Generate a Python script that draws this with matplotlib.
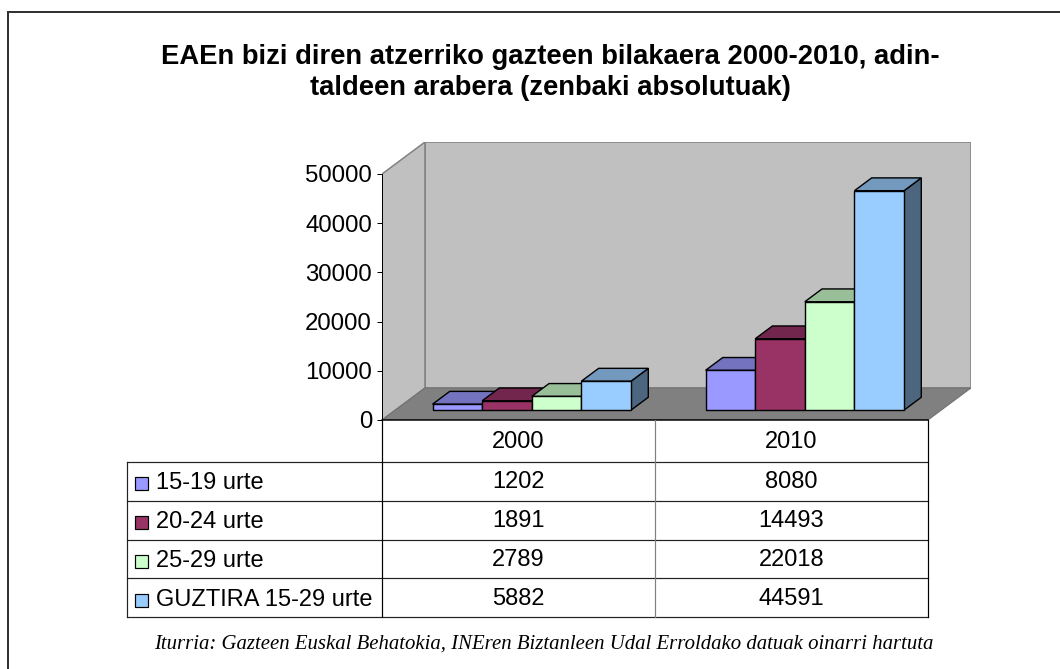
import matplotlib
matplotlib.use("Agg")
import matplotlib.pyplot as plt
from matplotlib.patches import Polygon
from matplotlib.lines import Line2D

# ---------------- data ----------------
years = ["2000", "2010"]
series_labels = ["15-19 urte", "20-24 urte", "25-29 urte", "GUZTIRA 15-29 urte"]
v_15_19 = [1202, 8080]
v_20_24 = [1891, 14493]
v_25_29 = [2789, 22018]
v_total = [5882, 44591]
yticks = [0, 10000, 20000, 30000, 40000, 50000]
title_lines = ["EAEn bizi diren atzerriko gazteen bilakaera 2000-2010, adin-",
               "taldeen arabera (zenbaki absolutuak)"]
source = "Iturria: Gazteen Euskal Behatokia, INEren Biztanleen Udal Erroldako datuak oinarri hartuta"

front_colors = ["#9999FF", "#993366", "#CCFFCC", "#99CCFF"]
top_colors = ["#7373BF", "#73264D", "#99BF99", "#7399BF"]
side_colors = ["#4D4D80", "#4D1A33", "#668066", "#4D6680"]

plt.rcParams['font.family'] = ['Liberation Sans', 'DejaVu Sans']

W, H = 1060, 669
fig = plt.figure(figsize=(W / 100, H / 100), dpi=100)
fig.patch.set_facecolor("white")


def fx(px):
    return px / W


def fy(py):
    return 1 - py / H


def pt(px):
    return px * 0.72


# outer chart border (cropped on right/bottom)
fig.add_artist(Line2D([fx(8), 1], [fy(12), fy(12)], transform=fig.transFigure,
                      color="#333333", lw=pt(2)))
fig.add_artist(Line2D([fx(8), fx(8)], [fy(12), 0], transform=fig.transFigure,
                      color="#333333", lw=pt(2)))

# ---------------- 3D plot geometry ----------------
x0_px, x1_px = 382, 928
dep_px = (43, 32)
y0_px, ytop_px = 420, 174
ymax = 50000
ncat = len(years)
ppu = (x1_px - x0_px) / ncat
ppv = (y0_px - ytop_px) / ymax
DX = dep_px[0] / ppu
DY = dep_px[1] / ppv

ax = fig.add_axes([fx(x0_px), fy(y0_px),
                   (x1_px + dep_px[0] - x0_px) / W,
                   (y0_px - (ytop_px - dep_px[1])) / H])
ax.set_xlim(0, ncat + DX)
ax.set_ylim(0, ymax + DY)
ax.patch.set_visible(False)


def P(u, v, d):
    return (u + d * DX, v + d * DY)


# walls
back = Polygon([P(0, 0, 1), P(ncat, 0, 1), P(ncat, ymax, 1), P(0, ymax, 1)],
               closed=True, facecolor="#C0C0C0", edgecolor="#808080", lw=pt(1.5), zorder=1)
left = Polygon([P(0, 0, 0), P(0, 0, 1), P(0, ymax, 1), P(0, ymax, 0)],
               closed=True, facecolor="#C0C0C0", edgecolor="#808080", lw=pt(1.5), zorder=1)
floor = Polygon([P(0, 0, 0), P(ncat, 0, 0), P(ncat, 0, 1), P(0, 0, 1)],
                closed=True, facecolor="#808080", edgecolor="#707070", lw=pt(1), zorder=2)
for p in (back, left, floor):
    ax.add_patch(p)

# bars
values = [v_15_19, v_20_24, v_25_29, v_total]
bw = 0.1818
gap = (1 - len(values) * bw) / 2
d0, d1 = 0.31, 0.71
elw = pt(1.4)
for i in range(ncat):
    for j, vals in enumerate(values):
        h = vals[i]
        u0 = i + gap + j * bw
        u1 = u0 + bw
        side = Polygon([P(u1, 0, d0), P(u1, h, d0), P(u1, h, d1), P(u1, 0, d1)],
                       closed=True, facecolor=side_colors[j], edgecolor="black",
                       lw=elw, zorder=3 + j)
        top = Polygon([P(u0, h, d0), P(u1, h, d0), P(u1, h, d1), P(u0, h, d1)],
                      closed=True, facecolor=top_colors[j], edgecolor="black",
                      lw=elw, zorder=3 + j)
        ax.add_patch(side)
        ax.add_patch(top)
        ax.bar(u0 + d0 * DX, h, width=bw, bottom=d0 * DY, align="edge",
               color=front_colors[j], edgecolor="black", lw=elw, zorder=3 + j)

# y axis on the front-left edge
for s in ("top", "right", "bottom"):
    ax.spines[s].set_visible(False)
ax.spines["left"].set_bounds(0, ymax)
ax.spines["left"].set_linewidth(pt(1))
ax.spines["left"].set_zorder(10)
ax.set_yticks(yticks)
ax.set_yticklabels([str(t) for t in yticks])
ax.tick_params(axis="y", length=pt(5), width=pt(1), pad=pt(5), labelsize=pt(24))
ax.set_xticks([])

# ---------------- data table ----------------
tl_px, tb_px = 127, 617
header_h = 42
row_h = (tb_px - y0_px - header_h) / len(series_labels)
ul = (tl_px - x0_px) / ppu
tax = fig.add_axes([fx(tl_px), fy(tb_px), (x1_px - tl_px) / W, (tb_px - y0_px) / H])
tax.set_xlim(ul, ncat)
tax.set_ylim(tb_px - y0_px, 0)
tax.axis("off")

total_h = tb_px - y0_px
row_edges = [header_h + k * row_h for k in range(len(series_labels) + 1)]
# horizontal lines
tax.plot([0, ncat], [0, 0], color="black", lw=pt(1.5), clip_on=False)
for yy in row_edges:
    tax.plot([ul, ncat], [yy, yy], color="#222222", lw=pt(1.2), clip_on=False)
# vertical lines
tax.plot([ul, ul], [header_h, total_h], color="#222222", lw=pt(1.2), clip_on=False)
tax.plot([0, 0], [0, total_h], color="black", lw=pt(1.2), clip_on=False)
for c in range(1, ncat):
    tax.plot([c, c], [0, total_h], color="#808080", lw=pt(1.2), clip_on=False)
tax.plot([ncat, ncat], [0, total_h], color="black", lw=pt(1.2), clip_on=False)

fs_tab = pt(23.6)
for i, yr in enumerate(years):
    tax.text(i + 0.5, header_h / 2 + 1, yr, ha="center", va="center", fontsize=fs_tab)
for j, lab in enumerate(series_labels):
    yc = header_h + (j + 0.5) * row_h + 2
    tax.plot([ul + 14 / ppu], [yc], marker="s", markersize=pt(13),
             markerfacecolor=front_colors[j], markeredgecolor="black",
             markeredgewidth=pt(1.2), clip_on=False)
    tax.text(ul + 29 / ppu, yc, lab, ha="left", va="center", fontsize=fs_tab)
    for i in range(ncat):
        tax.text(i + 0.5, yc - 1, str(values[j][i]), ha="center", va="center", fontsize=fs_tab)

# ---------------- title & source ----------------
fig.text(fx(550), fy(57), title_lines[0], ha="center", va="center",
         fontsize=pt(27.4), fontweight="bold")
fig.text(fx(550), fy(88), title_lines[1], ha="center", va="center",
         fontsize=pt(27.4), fontweight="bold")
fig.text(fx(544), fy(644), source, ha="center", va="center", fontsize=pt(20.8),
         fontstyle="italic", family=["Liberation Serif", "DejaVu Serif"])

fig.savefig("out.png", dpi=100, facecolor="white")
